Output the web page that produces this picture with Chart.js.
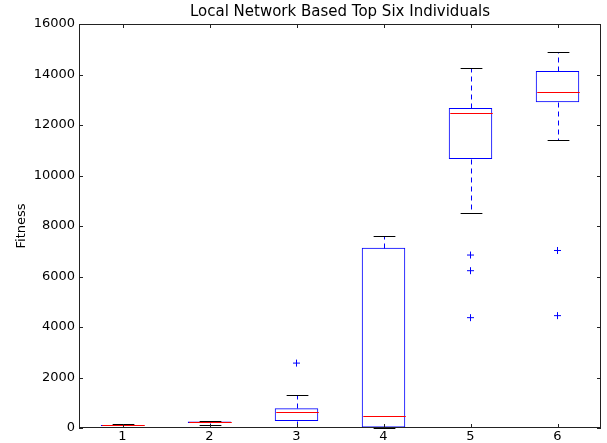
<!DOCTYPE html>
<html>
<head>
<meta charset="utf-8">
<script src="https://cdn.jsdelivr.net/npm/chart.js@4.4.0/dist/chart.umd.min.js"></script>
<style>
html, body { margin: 0; padding: 0; background: #fff; }
#wrap { width: 607px; height: 443px; }
</style>
</head>
<body>
<div id="wrap"><canvas id="chart"></canvas></div>
<script>
/* valores */
const labels = ['1', '2', '3', '4', '5', '6']
const mins = [40, 130, 30, 0, 8500, 11420]
const q1s = [80, 200, 280, 20, 10650, 12900]
const medians = [100, 230, 620, 470, 12490, 13310]
const q3s = [120, 260, 780, 7140, 12670, 14140]
const maxs = [150, 280, 1300, 7610, 14270, 14900]
const fliers = [[], [], [2570], [], [6850, 6230, 4370], [7030, 4450]]
const yTicks = [0, 2000, 4000, 6000, 8000, 10000, 12000, 14000, 16000]

const font = 'DejaVu Sans'

/* bigotes, topes, medianas, marco y ticks hacia dentro */
const boxParts = {
    id: 'boxParts',
    afterDatasetsDraw(chart) {
        const { ctx, scales: { x, y }, chartArea: a } = chart
        const unit = x.getPixelForValue(1) - x.getPixelForValue(0)
        const line = (x1, y1, x2, y2) => {
            ctx.beginPath()
            ctx.moveTo(x1, y1)
            ctx.lineTo(x2, y2)
            ctx.stroke()
        }
        const py = (v) => Math.round(y.getPixelForValue(v)) + 0.5
        ctx.save()
        ctx.lineWidth = 1
        labels.forEach((l, i) => {
            const cx = Math.round(x.getPixelForValue(i)) + 0.5
            ctx.strokeStyle = '#0000ff'
            ctx.setLineDash([5, 4])
            line(cx, py(q3s[i]), cx, py(maxs[i]))
            line(cx, py(q1s[i]), cx, py(mins[i]))
            ctx.setLineDash([])
            ctx.strokeStyle = '#000'
            line(cx - unit * 0.125, py(maxs[i]), cx + unit * 0.125, py(maxs[i]))
            line(cx - unit * 0.125, py(mins[i]), cx + unit * 0.125, py(mins[i]))
            ctx.strokeStyle = '#ff0000'
            line(cx - unit * 0.25 + 0.5, py(medians[i]), cx + unit * 0.25 - 0.5, py(medians[i]))
        })
        ctx.strokeStyle = '#222'
        ctx.strokeRect(Math.round(a.left) + 0.5, Math.round(a.top) + 0.5, Math.round(a.right - a.left) - 1, Math.round(a.bottom - a.top) - 1)
        yTicks.forEach((t) => {
            const ty = py(t)
            line(a.left, ty, a.left + 4, ty)
            line(a.right - 4, ty, a.right, ty)
        })
        labels.forEach((l, i) => {
            const tx = Math.round(x.getPixelForValue(i)) + 0.5
            line(tx, a.bottom, tx, a.bottom - 4)
            line(tx, a.top, tx, a.top + 4)
        })
        ctx.restore()
    }
}

const flierPoints = []
fliers.forEach((list, i) => list.forEach((v) => flierPoints.push({ x: labels[i], y: v })))

new Chart(document.querySelector('#chart'), {
    type: 'bar',
    data: {
        labels,
        datasets: [
            {
                data: labels.map((l, i) => [q1s[i], q3s[i]]),
                backgroundColor: 'rgba(0,0,0,0)',
                borderColor: '#0000ff',
                borderWidth: 1,
                borderSkipped: false,
                barPercentage: 0.5,
                categoryPercentage: 1
            },
            {
                type: 'line',
                data: flierPoints,
                showLine: false,
                pointStyle: 'cross',
                pointRadius: 3.5,
                borderColor: '#0000ff',
                borderWidth: 1
            }
        ]
    },
    options: {
        responsive: true,
        maintainAspectRatio: false,
        animation: false,
        layout: { padding: { right: 6 } },
        plugins: {
            legend: { display: false },
            tooltip: { enabled: false },
            title: {
                display: true,
                fullSize: false,
                text: 'Local Network Based Top Six Individuals',
                color: '#000',
                font: { family: font, size: 15, weight: 'normal' },
                padding: { top: 3, bottom: 3 }
            }
        },
        scales: {
            x: {
                grid: { display: false, drawTicks: false },
                border: { display: false },
                ticks: { color: '#000', font: { family: font, size: 13 }, padding: 1 },
                afterFit: (s) => { s.height = 15 }
            },
            y: {
                min: 0,
                max: 16000,
                grid: { display: false, drawTicks: false },
                border: { display: false },
                ticks: { color: '#000', font: { family: font, size: 13 }, padding: 4, stepSize: 2000, callback: (v) => String(v) },
                title: { display: true, text: 'Fitness', color: '#000', font: { family: font, size: 13 }, padding: { top: 14 } },
                afterFit: (s) => { s.width = 79 }
            }
        }
    },
    plugins: [boxParts]
})
</script>
</body>
</html>
